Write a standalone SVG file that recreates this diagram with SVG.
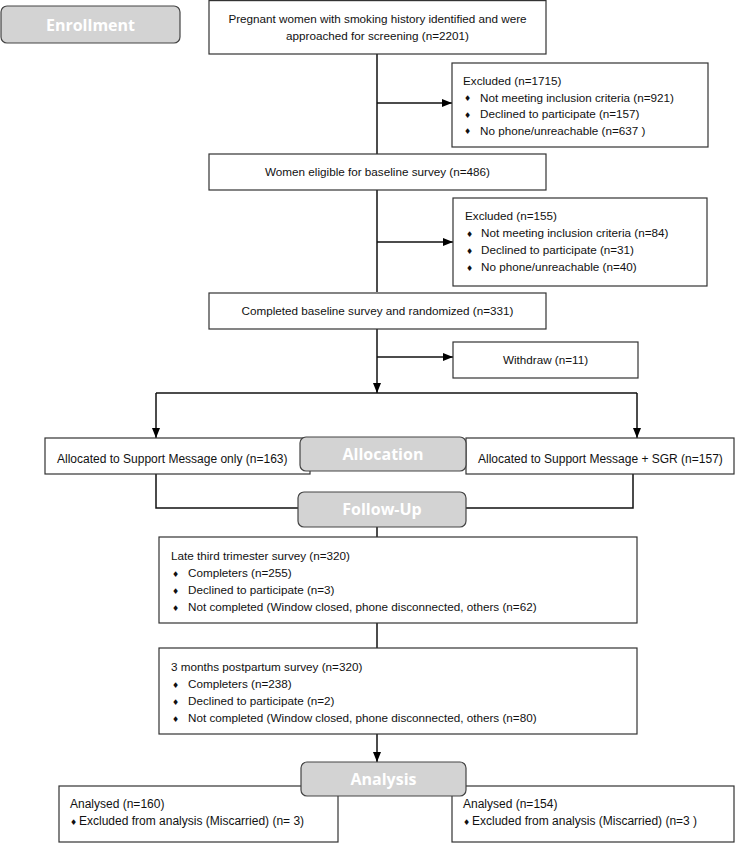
<svg xmlns="http://www.w3.org/2000/svg" width="735" height="843" viewBox="0 0 735 843">
<defs>
<marker id="ah" markerUnits="userSpaceOnUse" markerWidth="10" markerHeight="8" refX="10" refY="4" orient="auto">
<path d="M0,0 L10,4 L0,8 z" fill="#000"/>
</marker>
<style>
.box{fill:#fff;stroke:#333;stroke-width:1.2}
.hdr{fill:#d3d3d3;stroke:#444;stroke-width:1.2}
.ht{font-family:"Open Sans","Noto Sans",sans-serif;font-weight:bold;font-size:16px;fill:#fff;text-anchor:middle}
.t{font-family:"Liberation Sans",Arial,sans-serif;font-size:11.7px;fill:#111}
.s{font-size:12px}
.c{text-anchor:middle}
.b{font-family:"DejaVu Sans",sans-serif;font-size:8px;fill:#111}
.ln{fill:none;stroke:#111;stroke-width:1.5}
</style>
</defs>
<rect width="735" height="843" fill="#fff"/>

<g id="connectors">
<path class="ln" d="M377,54 V154"/>
<path class="ln" d="M377,190 V292"/>
<path class="ln" d="M377,329 V393" marker-end="url(#ah)"/>
<path class="ln" d="M377,103 H452" marker-end="url(#ah)"/>
<path class="ln" d="M377,242 H453" marker-end="url(#ah)"/>
<path class="ln" d="M377,357 H453" marker-end="url(#ah)"/>
<path class="ln" d="M156,393 H637"/>
<path class="ln" d="M156,393 V438" marker-end="url(#ah)"/>
<path class="ln" d="M637,393 V438" marker-end="url(#ah)"/>
<path class="ln" d="M156,474 V508 H300"/>
<path class="ln" d="M633,474 V508 H466"/>
<path class="ln" d="M377,527 V537"/>
<path class="ln" d="M377,623 V648"/>
<path class="ln" d="M377,734 V762" marker-end="url(#ah)"/>
</g>

<g id="enrollment">
<rect class="hdr" x="1" y="6" width="179" height="37" rx="6"/>
<text class="ht" x="90.5" y="30.5">Enrollment</text>
</g>

<g id="screening">
<rect class="box" x="209" y="0.6" width="337" height="53.4"/>
<text class="t c" x="377.5" y="23">Pregnant women with smoking history identified and were</text>
<text class="t c" x="377.5" y="40">approached for screening (n=2201)</text>
</g>

<g id="excluded1">
<rect class="box" x="452" y="63" width="256" height="84"/>
<text class="t" x="463" y="85">Excluded (n=1715)</text>
<text class="b" x="464" y="101">♦</text><text class="t" x="480" y="101.5">Not meeting inclusion criteria (n=921)</text>
<text class="b" x="464" y="117.5">♦</text><text class="t" x="480" y="118">Declined to participate (n=157)</text>
<text class="b" x="464" y="134">♦</text><text class="t" x="480" y="134.5">No phone/unreachable (n=637  )</text>
</g>

<g id="eligible">
<rect class="box" x="209" y="154" width="337" height="36"/>
<text class="t c" x="377.5" y="176">Women eligible for baseline survey (n=486)</text>
</g>

<g id="excluded2">
<rect class="box" x="453" y="198" width="254" height="88"/>
<text class="t" x="465" y="220">Excluded (n=155)</text>
<text class="b" x="466" y="236.5">♦</text><text class="t" x="481" y="237">Not meeting inclusion criteria (n=84)</text>
<text class="b" x="466" y="253.5">♦</text><text class="t" x="481" y="254">Declined to participate (n=31)</text>
<text class="b" x="466" y="270.5">♦</text><text class="t" x="481" y="271">No phone/unreachable (n=40)</text>
</g>

<g id="randomized">
<rect class="box" x="209" y="293" width="337" height="36"/>
<text class="t c" x="377.5" y="315">Completed baseline survey and randomized (n=331)</text>
</g>

<g id="withdraw">
<rect class="box" x="453" y="342" width="185" height="36"/>
<text class="t c" x="545.5" y="364">Withdraw (n=11)</text>
</g>

<g id="alloc-left">
<rect class="box" x="45" y="438" width="265" height="36"/>
<text class="t s" x="57" y="463">Allocated to Support Message only (n=163)</text>
</g>

<g id="alloc-right">
<rect class="box" x="466" y="438" width="268" height="36"/>
<text class="t s" x="478" y="463">Allocated to Support Message + SGR (n=157)</text>
</g>

<g id="allocation">
<rect class="hdr" x="300" y="437" width="166" height="34" rx="6"/>
<text class="ht" x="383" y="460">Allocation</text>
</g>

<g id="followup">
<rect class="hdr" x="298" y="492" width="168" height="35" rx="6"/>
<text class="ht" x="382" y="515">Follow-Up</text>
</g>

<g id="late-third">
<rect class="box" x="159" y="537" width="478" height="86"/>
<text class="t" x="171" y="560">Late third trimester survey (n=320)</text>
<text class="b" x="172" y="576.5">♦</text><text class="t" x="188" y="577">Completers (n=255)</text>
<text class="b" x="172" y="593.5">♦</text><text class="t" x="188" y="594">Declined to participate (n=3)</text>
<text class="b" x="172" y="610.5">♦</text><text class="t" x="188" y="611">Not completed (Window closed, phone disconnected, others (n=62)</text>
</g>

<g id="postpartum">
<rect class="box" x="159" y="648" width="478" height="86"/>
<text class="t" x="171" y="671">3 months postpartum survey (n=320)</text>
<text class="b" x="172" y="687.5">♦</text><text class="t" x="188" y="688">Completers (n=238)</text>
<text class="b" x="172" y="704.5">♦</text><text class="t" x="188" y="705">Declined to participate (n=2)</text>
<text class="b" x="172" y="721.5">♦</text><text class="t" x="188" y="722">Not completed (Window closed, phone disconnected, others (n=80)</text>
</g>

<g id="analysed-left">
<rect class="box" x="59" y="786" width="279" height="56"/>
<text class="t s" x="70" y="808">Analysed (n=160)</text>
<text class="b" x="70" y="824.5">♦</text><text class="t s" x="79" y="825">Excluded from analysis (Miscarried) (n= 3)</text>
</g>

<g id="analysed-right">
<rect class="box" x="452" y="786" width="282" height="56"/>
<text class="t s" x="463" y="808">Analysed (n=154)</text>
<text class="b" x="463" y="824.5">♦</text><text class="t s" x="472" y="825">Excluded from analysis (Miscarried) (n=3 )</text>
</g>

<g id="analysis">
<rect class="hdr" x="301" y="762" width="165" height="34" rx="6"/>
<text class="ht" x="383.5" y="785">Analysis</text>
</g>
</svg>
